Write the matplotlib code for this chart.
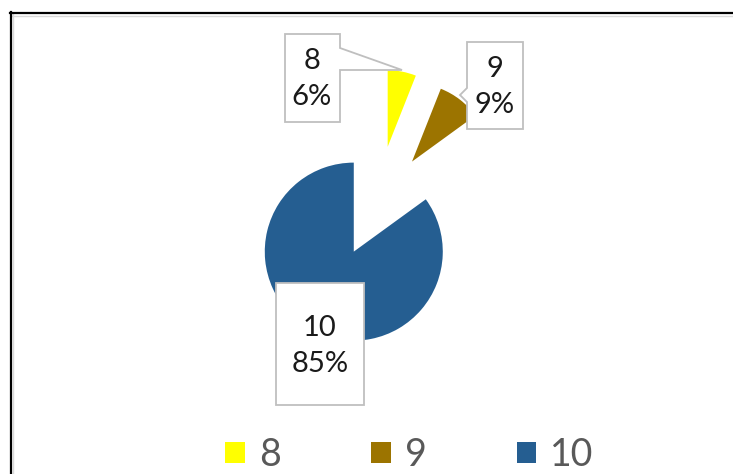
import matplotlib
matplotlib.use("Agg")
import matplotlib.pyplot as plt
from matplotlib.lines import Line2D
from matplotlib.patches import Polygon

# data
categories = ["8", "9", "10"]
shares = [6, 9, 85]
colors = ["#FFFF00", "#9C7400", "#255E91"]

# styling (explosion per slice, exploded slices drawn a bit smaller like the original)
explode = [0.70, 0.66, 0.55]
radii = [0.86, 0.88, 1.0]

W, H = 733, 474
SCALE = 89.0          # px per pie radius unit
CX, CY = 376, 208     # pie centre in pixels (from top-left)


def px(x, y):
    return ((x - CX) / SCALE, (CY - y) / SCALE)


plt.rcParams["font.family"] = ["Lato", "DejaVu Sans"]

fig = plt.figure(figsize=(W / 100, H / 100), dpi=100)
ax = fig.add_axes([0, 0, 1, 1])

wedges, _ = ax.pie(shares, colors=colors, startangle=90, counterclock=False,
                   explode=explode, radius=1, wedgeprops=dict(linewidth=0))
for w, r in zip(wedges, radii):
    w.set_radius(r)

ax.set_xlim(-CX / SCALE, (W - CX) / SCALE)
ax.set_ylim(-(H - CY) / SCALE, CY / SCALE)
ax.axis("off")

# ── data callouts ─────────────────────────────────────────
boxes = [
    [(285, 34), (340, 34), (340, 48), (402, 70), (340, 70), (340, 122), (285, 122)],
    [(467, 42), (523, 42), (523, 129), (467, 129), (467, 102), (460, 95), (467, 88)],
    [(276, 283), (364, 283), (364, 405), (276, 405)],
]
text_pos = [(312, 79), (495, 87), (320, 346)]
total = sum(shares)
for cat, val, poly, (tx, ty) in zip(categories, shares, boxes, text_pos):
    ax.add_patch(Polygon([px(*p) for p in poly], closed=True, facecolor="white",
                         edgecolor="#BFBFBF", linewidth=1.3, zorder=5))
    ax.text(*px(tx, ty), f"{cat}\n{val / total:.0%}", ha="center", va="center",
            fontsize=21, color="#1a1a1a", linespacing=1.45, zorder=6)

# ── legend ───────────────────────────────────────────────
leg = fig.legend(wedges, categories, loc="center", bbox_to_anchor=(409.5 / W, 1 - 455 / H),
                 ncol=3, frameon=False, fontsize=27, handlelength=0.53, handleheight=0.5,
                 handletextpad=0.37, columnspacing=2.4, borderpad=0)
for t in leg.get_texts():
    t.set_color("#595959")
for h in leg.legend_handles:
    h.set_linewidth(0)

# ── chart frame (top + left only visible) ────────────────
fig.add_artist(Line2D([11 / W, 1], [1 - 15.5 / H] * 2, color="#D9D9D9", lw=1))
fig.add_artist(Line2D([13.5 / W] * 2, [0, 1 - 13 / H], color="#D9D9D9", lw=1))
fig.add_artist(Line2D([10 / W, 1], [1 - 13 / H] * 2, color="black", lw=1.6))
fig.add_artist(Line2D([11 / W] * 2, [0, 1 - 12 / H], color="black", lw=1.6))

fig.savefig("out.png", dpi=100)
